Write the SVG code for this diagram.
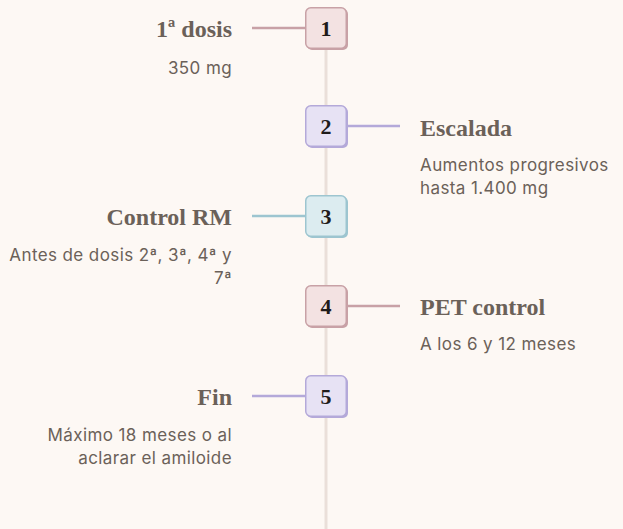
<svg xmlns="http://www.w3.org/2000/svg" width="623" height="529" viewBox="0 0 623 529">
<style>
.title{font-family:"Liberation Serif","DejaVu Serif",serif;font-weight:bold;font-size:24px;fill:#6b6159}
.desc{font-family:Inter,"Liberation Sans",sans-serif;font-size:17px;letter-spacing:0.4px;fill:#6b6159}
.num{font-family:"Liberation Serif","DejaVu Serif",serif;font-weight:bold;font-size:22px;fill:#1f1b1a;text-anchor:middle}
.l{text-anchor:end}
.rose .bx{fill:#f3e2e2;stroke:#c8a1a6}
.rose .sh{fill:#c8a1a6}
.lav .bx{fill:#e7e2f4;stroke:#b4a9d9}
.lav .sh{fill:#b4a9d9}
.teal .bx{fill:#dcecf0;stroke:#9dc5d0}
.teal .sh{fill:#9dc5d0}
.bx{stroke-width:1.5}
</style>
<rect width="623" height="529" fill="#fdf8f4"/>
<g id="connectors" stroke-width="2.5" fill="none">
<line x1="326" y1="40" x2="326" y2="529" stroke="#eadfd9" stroke-width="3"/>
<line x1="252" y1="28" x2="305" y2="28" stroke="#c8a1a6"/>
<line x1="347" y1="126" x2="400" y2="126" stroke="#b4a9d9"/>
<line x1="252" y1="216" x2="305" y2="216" stroke="#9dc5d0"/>
<line x1="347" y1="306" x2="400" y2="306" stroke="#c8a1a6"/>
<line x1="252" y1="396" x2="305" y2="396" stroke="#b4a9d9"/>
</g>
<g id="n1" class="rose">
<rect class="sh" x="307" y="9" width="41" height="41" rx="5"/>
<rect class="bx" x="305.75" y="7.75" width="40.5" height="40.5" rx="5"/>
<text class="num" x="326" y="36">1</text>
<text class="title l" x="232" y="37">1ª dosis</text>
<text class="desc l" x="232" y="74">350 mg</text>
</g>
<g id="n2" class="lav">
<rect class="sh" x="307" y="107" width="41" height="41" rx="5"/>
<rect class="bx" x="305.75" y="105.75" width="40.5" height="40.5" rx="5"/>
<text class="num" x="326" y="134">2</text>
<text class="title" x="420" y="136">Escalada</text>
<text class="desc" x="420" y="171">Aumentos progresivos</text>
<text class="desc" x="420" y="194">hasta 1.400 mg</text>
</g>
<g id="n3" class="teal">
<rect class="sh" x="307" y="197" width="41" height="41" rx="5"/>
<rect class="bx" x="305.75" y="195.75" width="40.5" height="40.5" rx="5"/>
<text class="num" x="326" y="224">3</text>
<text class="title l" x="232" y="225">Control RM</text>
<text class="desc l" x="232" y="261">Antes de dosis 2ª, 3ª, 4ª y</text>
<text class="desc l" x="232" y="284">7ª</text>
</g>
<g id="n4" class="rose">
<rect class="sh" x="307" y="287" width="41" height="41" rx="5"/>
<rect class="bx" x="305.75" y="285.75" width="40.5" height="40.5" rx="5"/>
<text class="num" x="326" y="314">4</text>
<text class="title" x="420" y="315">PET control</text>
<text class="desc" x="420" y="350">A los 6 y 12 meses</text>
</g>
<g id="n5" class="lav">
<rect class="sh" x="307" y="377" width="41" height="41" rx="5"/>
<rect class="bx" x="305.75" y="375.75" width="40.5" height="40.5" rx="5"/>
<text class="num" x="326" y="404">5</text>
<text class="title l" x="232" y="405">Fin</text>
<text class="desc l" x="232" y="441">Máximo 18 meses o al</text>
<text class="desc l" x="232" y="464">aclarar el amiloide</text>
</g>
</svg>
